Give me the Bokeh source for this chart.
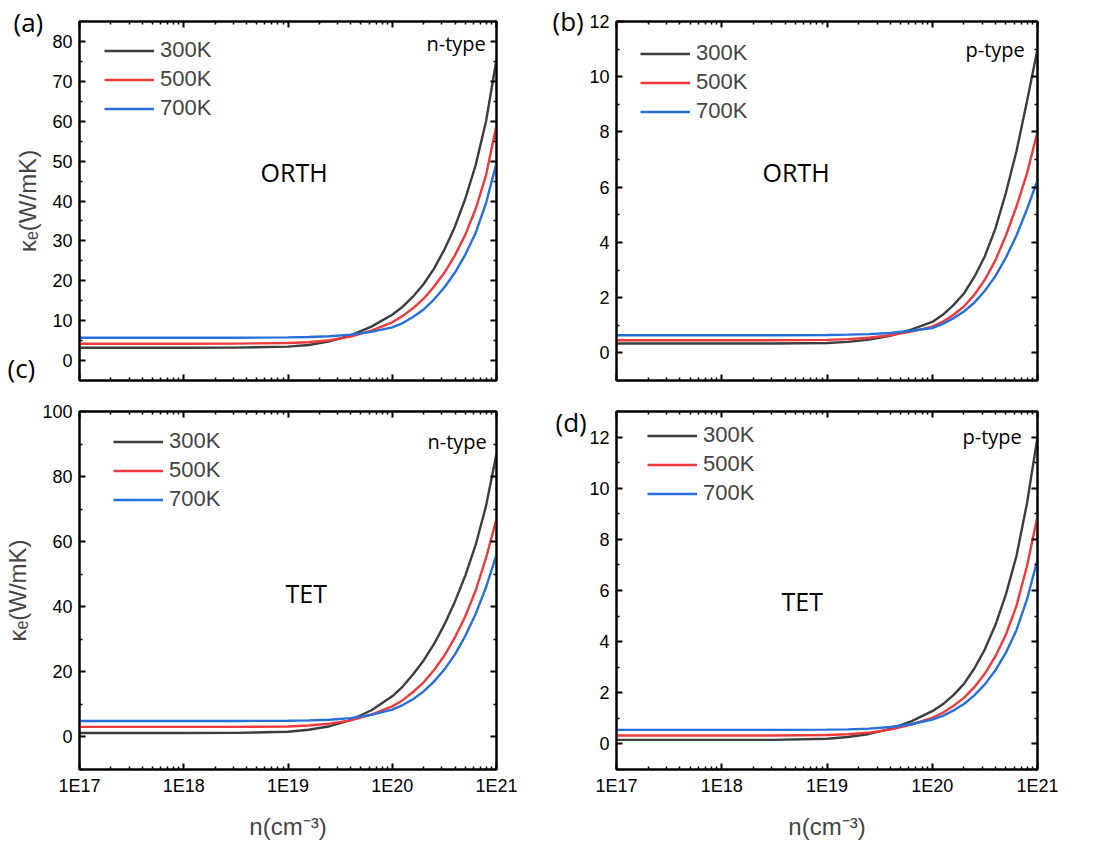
from bokeh.plotting import figure
from bokeh.layouts import column
from bokeh.models import (Range1d, FixedTicker, LinearAxis, LogAxis, Label,
                          Legend, LegendItem, CustomJSTickFormatter, GridBox)
from bokeh.core.properties import value
from bokeh.embed import file_html
from bokeh.resources import INLINE

# ---------------- data ----------------
n_cm3 = [1e17, 1e18, 3.16e18, 1e19, 1.58e19, 2.51e19, 3.98e19, 6.31e19, 1e20,
         1.26e20, 1.58e20, 2.0e20, 2.51e20, 3.16e20, 3.98e20, 5.01e20, 6.31e20,
         7.94e20, 1e21]
temps = ["300K", "500K", "700K"]

# (a) ORTH n-type
orth_n_300 = [3.2, 3.2, 3.25, 3.5, 3.9, 4.8, 6.3, 8.5, 11.5, 13.5, 16.0, 19.2,
              23.0, 27.8, 33.5, 40.5, 49.0, 60.0, 75.5]
orth_n_500 = [4.2, 4.2, 4.25, 4.4, 4.6, 5.1, 6.0, 7.5, 9.6, 11.2, 13.1, 15.5,
              18.5, 22.0, 26.3, 31.5, 38.0, 46.5, 59.0]
orth_n_700 = [5.7, 5.7, 5.72, 5.8, 5.9, 6.1, 6.5, 7.2, 8.3, 9.4, 10.9, 12.8,
              15.3, 18.3, 22.0, 26.5, 32.0, 39.5, 49.5]
# (b) ORTH p-type
orth_p_300 = [0.34, 0.34, 0.34, 0.36, 0.40, 0.48, 0.62, 0.84, 1.12, 1.38, 1.72,
              2.15, 2.75, 3.5, 4.5, 5.8, 7.3, 9.1, 11.0]
orth_p_500 = [0.46, 0.46, 0.46, 0.47, 0.50, 0.55, 0.64, 0.77, 0.95, 1.13, 1.37,
              1.68, 2.1, 2.65, 3.35, 4.25, 5.3, 6.5, 8.0]
orth_p_700 = [0.64, 0.64, 0.64, 0.65, 0.66, 0.68, 0.72, 0.80, 0.90, 1.05, 1.25,
              1.5, 1.82, 2.25, 2.78, 3.45, 4.25, 5.2, 6.25]
# (c) TET n-type
tet_n_300 = [1.2, 1.2, 1.25, 1.6, 2.2, 3.3, 5.2, 8.2, 12.5, 15.5, 19.2, 23.5,
             28.5, 34.5, 41.5, 49.5, 59.0, 71.0, 87.0]
tet_n_500 = [3.1, 3.1, 3.1, 3.2, 3.5, 4.1, 5.1, 6.9, 9.4, 11.3, 13.8, 16.8,
             20.5, 25.0, 30.5, 37.0, 45.0, 55.0, 67.0]
tet_n_700 = [4.9, 4.9, 4.9, 5.0, 5.1, 5.3, 5.8, 6.8, 8.4, 9.8, 11.6, 14.0,
             17.0, 20.7, 25.3, 31.0, 37.8, 46.0, 56.0]
# (d) TET p-type
tet_p_300 = [0.16, 0.16, 0.16, 0.20, 0.27, 0.39, 0.59, 0.88, 1.28, 1.55, 1.9,
             2.35, 2.95, 3.7, 4.65, 5.85, 7.35, 9.4, 12.0]
tet_p_500 = [0.33, 0.33, 0.33, 0.35, 0.38, 0.44, 0.56, 0.76, 1.02, 1.22, 1.48,
             1.8, 2.22, 2.75, 3.42, 4.28, 5.4, 6.95, 8.9]
tet_p_700 = [0.55, 0.55, 0.55, 0.56, 0.57, 0.60, 0.66, 0.77, 0.95, 1.1, 1.3,
             1.56, 1.9, 2.33, 2.88, 3.57, 4.45, 5.65, 7.2]

x_tick_values = [1e17, 1e18, 1e19, 1e20, 1e21]
x_tick_labels = ["1E17", "1E18", "1E19", "1E20", "1E21"]
panel_letters = ["(a)", "(c)", "(b)", "(d)"]

# ---------------- styling ----------------
colors = ["#3d3d3d", "#ee3a3c", "#2770dc"]
TICK_FONT = "Liberation Sans"
LABEL_FONT = "Open Sans"
x_minor = [k * 10 ** e for e in range(17, 21) for k in range(2, 10)]

blank_fmt_code = 'return "";'


def style_axis(ax, ticker, show_labels):
    ax.ticker = ticker
    ax.axis_line_width = 2
    ax.axis_line_color = "black"
    ax.major_tick_in = 6
    ax.major_tick_out = 0
    ax.minor_tick_in = 3
    ax.minor_tick_out = 0
    ax.major_tick_line_width = 2
    ax.minor_tick_line_width = 1.5
    if show_labels:
        ax.major_label_text_font = TICK_FONT
        ax.major_label_text_font_size = "18px"
        ax.major_label_text_color = "black"
    else:
        ax.formatter = CustomJSTickFormatter(code=blank_fmt_code)
        ax.major_label_text_font_size = "1px"
        ax.major_label_standoff = 0


def make_panel(width, height, mb, y_rng, y_major, y_minor, series,
               show_x, y_label, frame, legend_pos, texts):
    fl, ft, fr, fb = frame
    p = figure(width=width, height=height, x_axis_type="log",
               x_range=Range1d(1e17, 1e21), y_range=Range1d(*y_rng),
               output_backend="svg", toolbar_location=None,
               min_border_left=mb[0], min_border_right=mb[1],
               min_border_top=mb[2], min_border_bottom=mb[3])
    p.grid.visible = False
    p.outline_line_color = "black"
    p.outline_line_width = 2
    p.background_fill_color = "white"

    xt = FixedTicker(ticks=x_tick_values, minor_ticks=x_minor)
    yt = FixedTicker(ticks=y_major, minor_ticks=y_minor)

    xa = p.xaxis[0]
    style_axis(xa, xt, show_x)
    ya = p.yaxis[0]
    style_axis(ya, yt, True)
    ya.major_label_standoff = 7

    if show_x:
        xa.formatter = CustomJSTickFormatter(
            args=dict(vals=x_tick_values, labs=x_tick_labels),
            code="""
            for (let i = 0; i < vals.length; i++) {
                if (Math.abs(Math.log10(tick) - Math.log10(vals[i])) < 1e-6) return labs[i];
            }
            return "";""")
        xa.major_label_standoff = 6
        xa.axis_label = "n(cm\u207b\u00b3)"
        xa.axis_label_text_font = TICK_FONT
        xa.axis_label_text_font_size = "24px"
        xa.axis_label_text_font_style = "normal"
        xa.axis_label_standoff = 14
    if y_label:
        ya.axis_label = "\u03ba\u2091(W/mK)"
        ya.axis_label_text_font = TICK_FONT
        ya.axis_label_text_font_size = "24px"
        ya.axis_label_text_font_style = "normal"
        ya.axis_label_standoff = 8

    ra = LinearAxis()
    style_axis(ra, yt, False)
    p.add_layout(ra, "right")
    ta = LogAxis()
    style_axis(ta, xt, False)
    p.add_layout(ta, "above")

    items = []
    for t, ys, c in zip(temps, series, colors):
        r = p.line(n_cm3, ys, line_color=c, line_width=2.4)
        items.append(LegendItem(label=t, renderers=[r]))

    fh = fb - ft
    gx, first_center = legend_pos
    row_h = 29
    top_off = first_center - ft - row_h / 2
    leg = Legend(items=items, location=(gx - fl, fh - top_off - 3 * row_h),
                 padding=0, margin=0, spacing=0, label_height=row_h,
                 glyph_height=row_h, glyph_width=50, label_standoff=6,
                 label_text_font=TICK_FONT, label_text_font_size="22px",
                 background_fill_alpha=0, border_line_color=None)
    p.add_layout(leg)

    for (txt, px, py, font, size) in texts:
        p.add_layout(Label(x=px - fl, y=fb - py, x_units="screen", y_units="screen",
                           text=txt, text_font=font, text_font_size=size,
                           text_align="left", text_baseline="middle",
                           text_color="black"))
    return p


pa = make_panel(548, 395, (79, 52, 21, 15), (-5, 85),
                list(range(0, 81, 10)), list(range(-5, 86, 10)),
                [orth_n_300, orth_n_500, orth_n_700], False, True,
                (79, 21, 496, 380), (104, 50),
                [("n-type", 426, 43, LABEL_FONT, "20px"),
                 ("ORTH", 260, 171, LABEL_FONT, "25px")])

pb = make_panel(538, 395, (67, 49, 21, 15), (-1, 12),
                list(range(0, 13, 2)), list(range(-1, 12, 2)),
                [orth_p_300, orth_p_500, orth_p_700], False, False,
                (615, 21, 1037, 380), (639, 53),
                [("p-type", 964, 49, LABEL_FONT, "20px"),
                 ("ORTH", 761, 171, LABEL_FONT, "25px")])

pc = make_panel(548, 447, (79, 51, 16, 72), (-10, 100),
                list(range(0, 101, 20)), list(range(-10, 101, 20)),
                [tet_n_300, tet_n_500, tet_n_700], True, True,
                (79, 411, 497, 770), (113, 442),
                [("n-type", 427, 442, LABEL_FONT, "20px"),
                 ("TET", 285, 593, LABEL_FONT, "25px")])

pd = make_panel(538, 447, (68, 49, 16, 72), (-1, 13),
                list(range(0, 13, 2)), list(range(-1, 14, 2)),
                [tet_p_300, tet_p_500, tet_p_700], True, False,
                (616, 411, 1037, 770), (647, 436),
                [("p-type", 962, 437, LABEL_FONT, "20px"),
                 ("TET", 781, 601, LABEL_FONT, "25px")])

# transparent overlay carrying the panel letters (outside the plot frames)
ov = figure(width=1086, height=842, x_range=Range1d(0, 1086), y_range=Range1d(842, 0),
            min_border=0, x_axis_location=None, y_axis_location=None,
            output_backend="svg", toolbar_location=None)
ov.grid.visible = False
ov.outline_line_color = None
ov.background_fill_alpha = 0
ov.border_fill_alpha = 0
ov.text(x=[13, 7, 552, 555], y=[21, 367, 20, 421], text=panel_letters,
        text_font=value(LABEL_FONT), text_font_size="26px",
        text_align="left", text_baseline="middle", text_color="black")

layout = GridBox(children=[(pa, 0, 0), (pb, 0, 1), (pc, 1, 0), (pd, 1, 1),
                           (column(ov), 0, 0, 2, 2)], spacing=0)
open("out.html", "w").write(file_html(layout, INLINE))
